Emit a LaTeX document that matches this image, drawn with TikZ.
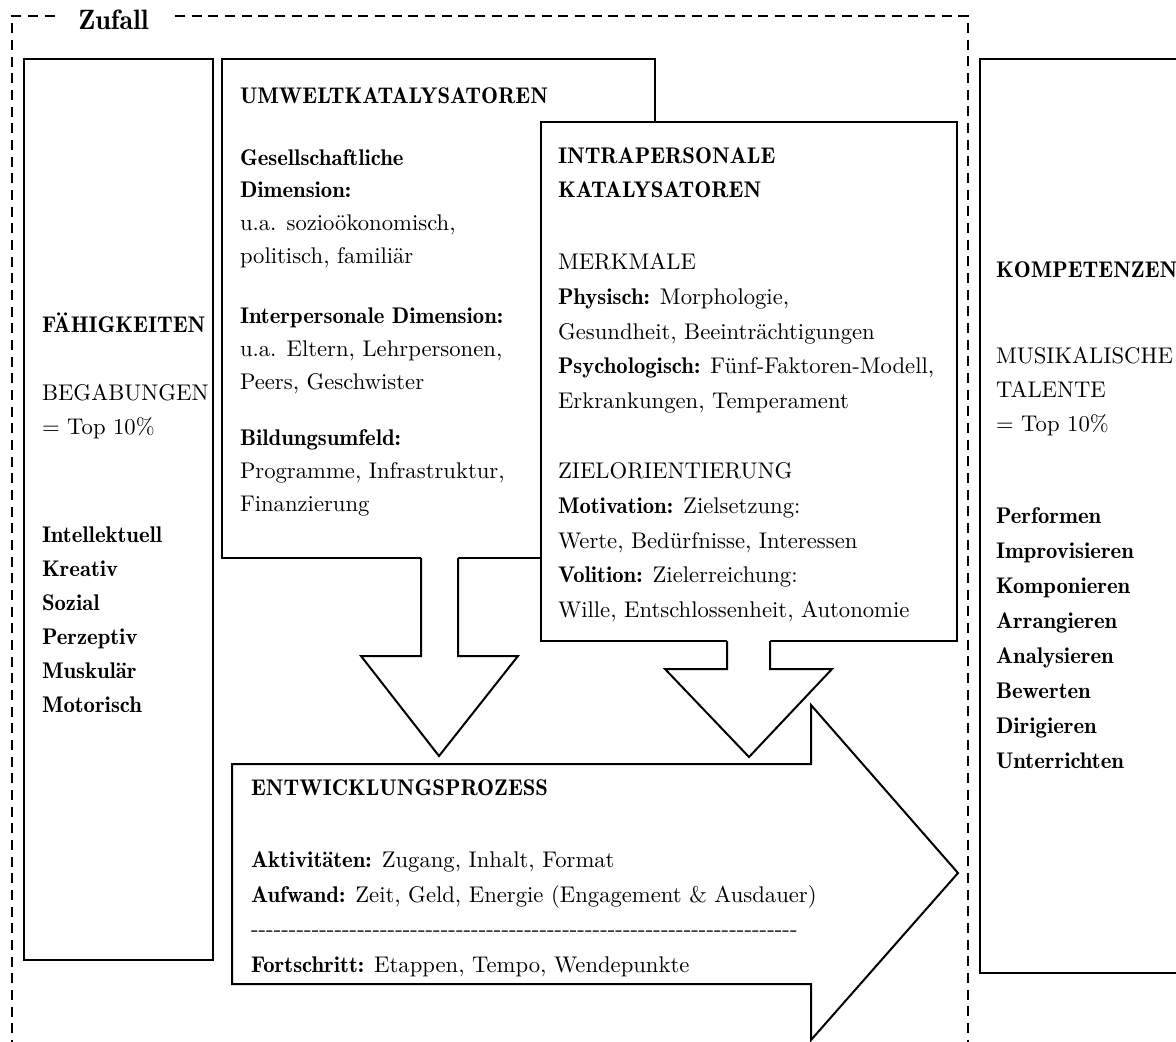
\documentclass[tikz,border=0pt]{standalone}
\usepackage{fontspec}
\setmainfont{lmroman10-regular.otf}[BoldFont=lmromandemi10-regular.otf]
\usetikzlibrary{fit}
\begin{document}
\begin{tikzpicture}[x=0.75pt,y=-0.75pt,
  box/.style={draw,line width=1.6pt,inner sep=0pt,outer sep=0pt,fill=white},
  blockarrow/.style={draw,line width=1.5pt,fill=white,line join=miter},
  frame/.style={line width=1.6pt,dash pattern=on 7.5pt off 5pt},
  txt/.style={anchor=base west,inner sep=0pt,outer sep=0pt,font=\fontsize{17}{20}\selectfont}]
\useasboundingbox (0,0) rectangle (1176,1041);
\clip (0,0) rectangle (1176,1041);
\fill[white] (0,0) rectangle (1176,1041);

% outer dashed frame "Zufall"
\node[anchor=base west,inner sep=0pt,font=\fontsize{21}{24}\selectfont\bfseries] (zufall) at (78,30) {Zufall};
\coordinate (zl) at (55,16);
\coordinate (zr) at (175,16);
\coordinate (fbl) at (12,1050);
\coordinate (fbr) at (968,1050);
\draw[frame] (fbl) -- (12,16) -- (zl);
\draw[frame] (zr) -- (968,16) -- (fbr);

% boxes
\node[box,fit={(24,59) (213,960)}] (faeh) {};
\node[box,fit={(222,59) (655,558)}] (umwelt) {};
% arrow 1
\fill[white] (421,555) -- (421,656) -- (361,656) -- (439,756) -- (518,656) -- (458,656) -- (458,555) -- cycle;
\draw[blockarrow,fill=none] (421,558) -- (421,656) -- (361,656) -- (439,756) -- (518,656) -- (458,656) -- (458,558);
\node[box,fit={(541,122) (957,641)}] (intra) {};
% arrow 2
\fill[white] (727,638) -- (727,669) -- (665,669) -- (749,757) -- (832,669) -- (770,669) -- (770,638) -- cycle;
\draw[blockarrow,fill=none] (727,641) -- (727,669) -- (665,669) -- (749,757) -- (832,669) -- (770,669) -- (770,641);
% development arrow
\draw[blockarrow] (232,764) -- (811,764) -- (811,705) -- (958,873) -- (811,1040) -- (811,984) -- (232,984) -- cycle;
\node[box,fit={(980,59) (1210,973)}] (komp) {};

% texts: Faehigkeiten
\foreach \ty/\tx [count=\i] in {332/{\textbf{FÄHIGKEITEN}},400/{BEGABUNGEN},434/{= Top 10\%},
  542/{\textbf{Intellektuell}},576/{\textbf{Kreativ}},610/{\textbf{Sozial}},
  644/{\textbf{Perzeptiv}},678/{\textbf{Muskulär}},712/{\textbf{Motorisch}}}
  \node[txt] (fa\i) at (42,\ty) {\tx};

% Umwelt
\foreach \ty/\tx [count=\i] in {104/{\textbf{UMWELTKATALYSATOREN}},
  166/{\textbf{Gesellschaftliche}},198/{\textbf{Dimension:}},230/{u.a. sozioökonomisch,},263/{politisch, familiär},
  323/{\textbf{Interpersonale Dimension:}},356/{u.a. Eltern, Lehrpersonen,},389/{Peers, Geschwister},
  445/{\textbf{Bildungsumfeld:}},478/{Programme, Infrastruktur,},511/{Finanzierung}}
  \node[txt] (um\i) at (240,\ty) {\tx};

% Intrapersonal
\foreach \ty/\tx [count=\i] in {164/{\textbf{INTRAPERSONALE}},198/{\textbf{KATALYSATOREN}},
  269/{MERKMALE},304/{\textbf{Physisch:} Morphologie,},339/{Gesundheit, Beeinträchtigungen},
  373/{\textbf{Psychologisch:} Fünf-Faktoren-Modell,},408/{Erkrankungen, Temperament},
  478/{ZIELORIENTIERUNG},513/{\textbf{Motivation:} Zielsetzung:},548/{Werte, Bedürfnisse, Interessen},
  582/{\textbf{Volition:} Zielerreichung:},617/{Wille, Entschlossenheit, Autonomie}}
  \node[txt] (in\i) at (558,\ty) {\tx};

% Kompetenzen
\foreach \ty/\tx [count=\i] in {277/{\textbf{KOMPETENZEN}},363/{MUSIKALISCHE},397/{TALENTE},431/{= Top 10\%},
  523/{\textbf{Performen}},558/{\textbf{Improvisieren}},593/{\textbf{Komponieren}},628/{\textbf{Arrangieren}},
  663/{\textbf{Analysieren}},698/{\textbf{Bewerten}},733/{\textbf{Dirigieren}},768/{\textbf{Unterrichten}}}
  \node[txt] (ko\i) at (996,\ty) {\tx};

% Entwicklungsprozess
\foreach \ty/\tx [count=\i] in {795/{\textbf{ENTWICKLUNGSPROZESS}},
  867/{\textbf{Aktivitäten:} Zugang, Inhalt, Format},
  902/{\textbf{Aufwand:} Zeit, Geld, Energie (Engagement \& Ausdauer)},
  936/{\makebox[410pt][l]{\xleaders\hbox{-}\hfill}},
  972/{\textbf{Fortschritt:} Etappen, Tempo, Wendepunkte}}
  \node[txt] (en\i) at (251,\ty) {\tx};
\end{tikzpicture}
\end{document}
